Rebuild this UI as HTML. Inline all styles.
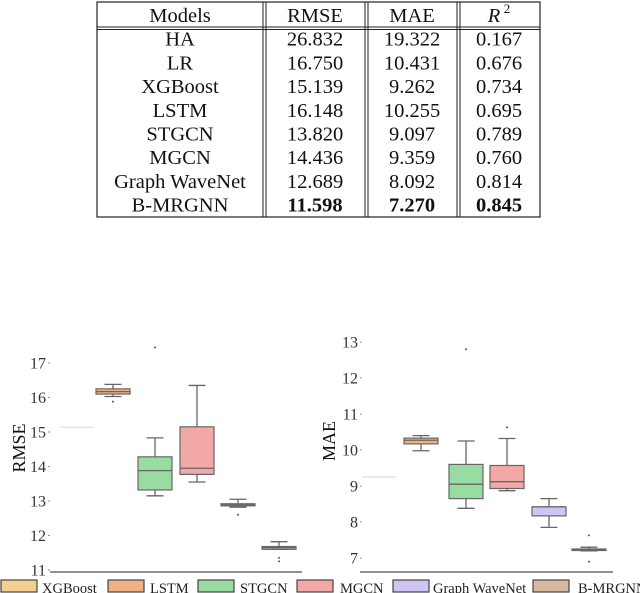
<!DOCTYPE html>
<html><head><meta charset="utf-8">
<style>
body{margin:0;background:#fff;width:640px;height:593px;overflow:hidden;position:relative;font-family:"Liberation Serif",serif;}
</style></head><body>
<svg id="svg" width="640" height="593" style="position:absolute;left:0;top:0"></svg>
<script>
// table data
const models=["HA","LR","XGBoost","LSTM","STGCN","MGCN","Graph WaveNet","B-MRGNN"];
const rmse=["26.832","16.750","15.139","16.148","13.820","14.436","12.689","11.598"];
const mae=["19.322","10.431","9.262","10.255","9.097","9.359","8.092","7.270"];
const r2=["0.167","0.676","0.734","0.695","0.789","0.760","0.814","0.845"];
// box data: [whiskerLo, q1, median, q3, whiskerHi]
const boxNames=["XGBoost","LSTM","STGCN","MGCN","Graph WaveNet","B-MRGNN"];
const colors=["#f3d08f","#f2b185","#98dca2","#f2a8a6","#cfc4f4","#d6b9a2"];
const rmseBoxes=[[15.14,15.14,15.14,15.14,15.14],[16.03,16.1,16.17,16.25,16.38],[13.15,13.32,13.88,14.28,14.83],[13.55,13.77,13.95,15.15,16.35],[12.82,12.86,12.89,12.92,13.05],[11.6,11.6,11.65,11.68,11.82]];
const rmseOut=[[],[15.88],[17.45],[],[12.6],[11.35,11.25]];
const maeBoxes=[[9.25,9.25,9.25,9.25,9.25],[9.98,10.17,10.27,10.33,10.4],[8.38,8.65,9.05,9.6,10.25],[8.87,8.93,9.12,9.57,10.32],[7.85,8.17,8.42,8.42,8.65],[7.2,7.22,7.24,7.25,7.3]];
const maeOut=[[],[],[12.8],[10.63],[],[7.63,6.9]];
const rmseTicks=[11,12,13,14,15,16,17];
const maeTicks=[7,8,9,10,11,12,13];

const NS="http://www.w3.org/2000/svg";
const svg=document.getElementById('svg');
function mk(tag,attrs,parent,name){const e=document.createElementNS(NS,tag);for(const k in attrs)e.setAttribute(k,attrs[k]);


(parent||svg).appendChild(e);return e;}
function txt(x,y,s,attrs,name,bold){const t=mk('text',Object.assign({x:x,y:y,'font-family':'Liberation Serif, serif','font-size':20.5,'text-anchor':'middle',fill:'#111'},attrs||{}),svg,name);t.textContent=s;if(bold)t.setAttribute('font-weight','bold');return t;}

// Table
const L=97,R=540,T=2,HB=27,B=217;
mk('rect',{x:L,y:T,width:R-L,height:B-T,fill:'none',stroke:'#222','stroke-width':1.2},svg,'table-border');
mk('line',{x1:L,x2:R,y1:HB,y2:HB,stroke:'#222','stroke-width':1},svg,'header-rule');
mk('line',{x1:L,x2:R,y1:HB+2.5,y2:HB+2.5,stroke:'#222','stroke-width':1},svg,'header-rule-2');
[263,365,457].forEach(x=>{
 mk('line',{x1:x,x2:x,y1:T,y2:B,stroke:'#222','stroke-width':1},svg,'column-rule');
 mk('line',{x1:x+3,x2:x+3,y1:T,y2:B,stroke:'#222','stroke-width':1},svg,'column-rule');
});
const cx=[180,315,412,499];
txt(cx[0],22,'Models',{},'header-models');
txt(cx[1],22,'RMSE',{},'header-rmse');
txt(cx[2],22,'MAE',{},'header-mae');
txt(cx[3]-5,22,'R',{'font-style':'italic'},'header-r2');
txt(cx[3]+8,13,'2',{'font-size':13},'header-r2-exp');
const rowH=23.7;
models.forEach((m,i)=>{const y=HB+rowH*(i+1)-5;const b=i===7;
 txt(cx[0],y,m,{},'model-name');
 txt(cx[1],y,rmse[i],{},'rmse-value',b);
 txt(cx[2],y,mae[i],{},'mae-value',b);
 txt(cx[3],y,r2[i],{},'r2-value',b);
});

function chart(o){
 const y=v=>o.y0-(v-o.vmin)*o.ppu;
 mk('line',{x1:o.ax0,x2:o.ax1,y1:572,y2:572,stroke:'#222','stroke-width':1},svg,'x-axis-line');
 o.ticks.forEach(t=>{
  txt(o.tx,y(t)+5.5,String(t),{'font-size':16,'text-anchor':'end',fill:'#333'},'y-tick-label');
  mk('line',{x1:o.tx+2,x2:o.tx+4,y1:y(t),y2:y(t),stroke:'#777','stroke-width':0.8},svg,'y-tick');
 });
 txt(o.lx,o.ly,o.label,{'font-size':18,transform:`rotate(-90 ${o.lx} ${o.ly})`},'y-axis-title');
 o.boxes.forEach((b,i)=>{
  const x0=o.bx[i],w=o.bw,xm=x0+w/2;
  const st={stroke:'#666','stroke-width':1.3};
  if(b[0]===b[4]){mk('line',Object.assign({x1:x0,x2:x0+w,y1:y(b[2]),y2:y(b[2])},{stroke:'#ddd','stroke-width':1.2}),svg,'box-'+i);return;}
  mk('line',Object.assign({x1:xm,x2:xm,y1:y(b[0]),y2:y(b[1])},st),svg,'whisker-low');
  mk('line',Object.assign({x1:xm,x2:xm,y1:y(b[3]),y2:y(b[4])},st),svg,'whisker-high');
  mk('line',Object.assign({x1:xm-w/4,x2:xm+w/4,y1:y(b[0]),y2:y(b[0])},st),svg,'cap-low');
  mk('line',Object.assign({x1:xm-w/4,x2:xm+w/4,y1:y(b[4]),y2:y(b[4])},st),svg,'cap-high');
  mk('rect',{x:x0,y:y(b[3]),width:w,height:Math.max(1.5,y(b[1])-y(b[3])),fill:colors[i],stroke:'#666','stroke-width':1.2},svg,'box-'+i);
  mk('line',Object.assign({x1:x0,x2:x0+w,y1:y(b[2]),y2:y(b[2])},st),svg,'median');
  o.out[i].forEach(v=>mk('circle',{cx:xm,cy:y(v),r:1,fill:'#555'},svg,'outlier'));
 });
}
chart({boxes:rmseBoxes,out:rmseOut,ticks:rmseTicks,vmin:11,y0:570,ppu:34.5,ax0:50,ax1:302,tx:46,lx:25,ly:448,label:'RMSE',bx:[60,96,138,180,221,262],bw:34});
chart({boxes:maeBoxes,out:maeOut,ticks:maeTicks,vmin:7,y0:558,ppu:36,ax0:360,ax1:613,tx:358,lx:335,ly:441,label:'MAE',bx:[362,404,449,490,532,572],bw:34});

// legend
const lx=[0,107,197,296,392,532],tx=[42,150,240,340,433,578];
boxNames.forEach((n,i)=>{
 mk('rect',{x:lx[i]+1,y:580,width:36,height:12,fill:colors[i],stroke:'#444','stroke-width':1.2},svg,'legend-swatch');
 txt(tx[i],593,n,{'font-size':14.5,'text-anchor':'start',fill:'#222'},'legend-entry');
});
</script>
</body></html>
